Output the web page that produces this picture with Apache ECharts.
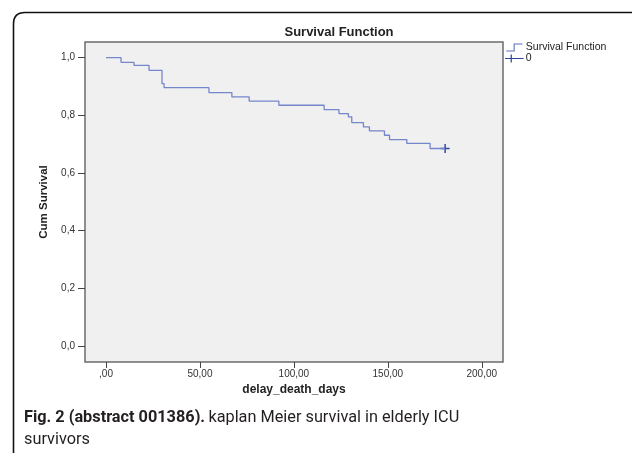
<!DOCTYPE html>
<html>
<head>
<meta charset="utf-8">
<script src="https://cdn.jsdelivr.net/npm/echarts@6/dist/echarts.min.js"></script>
<style>
html,body{margin:0;padding:0;background:#fff;}
#chart{width:632px;height:453px;}
</style>
</head>
<body>
<div id="chart"></div>
<script>
// Kaplan-Meier step points: [day, cumulative survival] (value holds until next time)
var kmDays = [0, 8, 14.9, 22.9, 29.8, 30.9, 54.8, 67, 76.2, 92, 116.1, 124, 129, 130.8, 137, 140.2, 148.2, 150.9, 160.1, 172.5, 180.5];
var kmSurv = [1.0, 0.984, 0.973, 0.956, 0.91, 0.896, 0.879, 0.864, 0.849, 0.835, 0.820, 0.806, 0.795, 0.775, 0.760, 0.746, 0.731, 0.716, 0.703, 0.685, 0.685];
// Censored observations
var censDays = [180.5];
var censSurv = [0.685];
// Tick values and labels
var xTicks = [0, 50, 100, 150, 200];
var xTickLabels = [',00', '50,00', '100,00', '150,00', '200,00'];
var yTicks = [0, 0.2, 0.4, 0.6, 0.8, 1.0];
var yTickLabels = ['0,0', '0,2', '0,4', '0,6', '0,8', '1,0'];
var seriesNames = ['Survival Function', '0'];

var kmData = kmDays.map(function (d, i) { return [d, kmSurv[i]]; });
var censData = censDays.map(function (d, i) { return [d, censSurv[i]]; });

function lab(ticks, labels) {
  return function (v) {
    for (var i = 0; i < ticks.length; i++) {
      if (Math.abs(ticks[i] - v) < 1e-6) return labels[i];
    }
    return '';
  };
}

var chart = echarts.init(document.getElementById('chart'), null, {renderer: 'canvas'});
var font = '"Liberation Sans", Arial, sans-serif';
chart.setOption({
  animation: false,
  backgroundColor: '#ffffff',
  title: {
    text: 'Survival Function',
    left: 339, top: 26, textAlign: 'center', padding: 0,
    textStyle: {fontFamily: font, fontWeight: 'bold', fontSize: 13, color: '#222'}
  },
  legend: {
    orient: 'vertical', left: 505, top: 42, padding: 0,
    itemGap: 0, itemWidth: 21, itemHeight: 8,
    data: [
      {name: seriesNames[0], icon: 'path://M0,9H9.6V0H21V1.4H11V10.4H0Z'},
      {name: seriesNames[1], icon: 'path://M0,4.3H21V5.7H0Z M6.3,0.5H7.7V9.5H6.3Z'}
    ],
    textStyle: {fontFamily: font, fontSize: 10.5, color: '#222', lineHeight: 8, padding: [0, 0, 0, -4]}
  },
  grid: {
    left: 85, top: 42, right: 129, bottom: 91,
    show: true, backgroundColor: '#f0f0f0', borderColor: '#6b6b6b', borderWidth: 1.5
  },
  xAxis: {
    type: 'value', min: -11.18, max: 211.3,
    name: 'delay_death_days', nameLocation: 'middle', nameGap: 17,
    nameTextStyle: {fontFamily: font, fontWeight: 'bold', fontSize: 12, color: '#222'},
    axisLine: {show: false, onZero: false},
    splitLine: {show: false},
    axisTick: {show: true, customValues: xTicks, length: 6, lineStyle: {color: '#444'}},
    axisLabel: {customValues: xTicks, formatter: lab(xTicks, xTickLabels), margin: 7,
      fontFamily: font, fontSize: 10, color: '#333'}
  },
  yAxis: {
    type: 'value', min: -0.0555, max: 1.0544,
    name: 'Cum Survival', nameLocation: 'middle', nameGap: 30, nameRotate: 90,
    nameTextStyle: {fontFamily: font, fontWeight: 'bold', fontSize: 11.5, color: '#222'},
    axisLine: {show: false, onZero: false},
    splitLine: {show: false},
    axisTick: {show: true, customValues: yTicks, length: 7, lineStyle: {color: '#444'}},
    axisLabel: {customValues: yTicks, formatter: lab(yTicks, yTickLabels), margin: 10,
      fontFamily: font, fontSize: 10, color: '#333'}
  },
  series: [
    {
      name: seriesNames[0], type: 'line', step: 'end', data: kmData,
      showSymbol: false, symbol: 'none',
      lineStyle: {color: '#7486cc', width: 1.3},
      itemStyle: {color: '#5a6fc0'}
    },
    {
      name: seriesNames[1], type: 'scatter', data: censData,
      symbol: 'path://M0,4.2H10V5.8H0Z M4.2,0H5.8V10H4.2Z', symbolSize: 9,
      itemStyle: {color: '#2e45a3', opacity: 1}
    }
  ],
  graphic: [
    {
      type: 'polyline', silent: true,
      shape: {points: [[13.5, 470], [13.5, 24]]},
      style: {fill: null, stroke: '#111', lineWidth: 1.6}
    },
    {
      type: 'bezierCurve', silent: true,
      shape: {x1: 13.5, y1: 24, cpx1: 13.5, cpy1: 12.5, x2: 25, y2: 12.5},
      style: {fill: null, stroke: '#111', lineWidth: 1.6}
    },
    {
      type: 'polyline', silent: true,
      shape: {points: [[25, 12.5], [640, 12.5]]},
      style: {fill: null, stroke: '#111', lineWidth: 1.6}
    },
    {
      type: 'text', left: 24, top: 410, silent: true,
      style: {
        text: '{b|Fig. 2 (abstract 001386).} {r|kaplan Meier survival in elderly ICU}\n{r|survivors}',
        rich: {
          b: {fontFamily: 'Roboto, "Noto Sans", sans-serif', fontWeight: 'bold', fontSize: 16.3, fill: '#231f20', lineHeight: 22},
          r: {fontFamily: 'Roboto, "Noto Sans", sans-serif', fontSize: 16.3, fill: '#231f20', lineHeight: 22}
        }
      }
    }
  ]
});
</script>
</body>
</html>
